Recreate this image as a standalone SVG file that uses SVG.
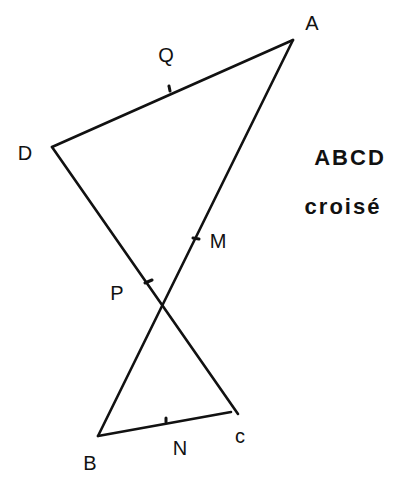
<svg xmlns="http://www.w3.org/2000/svg" width="406" height="483" viewBox="0 0 406 483">
<style>
.seg{stroke:#111;stroke-width:2.6;fill:none;stroke-linecap:round}
.tick{stroke:#111;stroke-width:3;stroke-linecap:round}
.lbl{font-family:"Liberation Sans",Arial,sans-serif;font-size:20px;fill:#111;text-anchor:middle}
.note{font-family:"Liberation Sans",Arial,sans-serif;font-size:22px;font-weight:bold;fill:#111;text-anchor:middle;letter-spacing:2px}
</style>
<rect width="406" height="483" fill="#fff"/>
<g id="connectors">
<line class="seg" x1="293" y1="40" x2="52" y2="147"/>
<line class="seg" x1="293" y1="40" x2="98" y2="436"/>
<line class="seg" x1="52" y1="147" x2="238" y2="414"/>
<line class="seg" x1="98" y1="436" x2="231" y2="412"/>
</g>
<g id="node-A"><text class="lbl" x="312" y="30">A</text></g>
<g id="node-D"><text class="lbl" x="25" y="160">D</text></g>
<g id="node-B"><text class="lbl" x="90" y="470">B</text></g>
<g id="node-C"><text class="lbl" x="240" y="443" font-size="17">c</text></g>
<g id="node-Q"><line class="tick" x1="169" y1="86" x2="170" y2="91"/><text class="lbl" x="166" y="62" font-size="17">Q</text></g>
<g id="node-M"><line class="tick" x1="193" y1="238" x2="199" y2="239"/><text class="lbl" x="218" y="248" font-size="18">M</text></g>
<g id="node-P"><line class="tick" x1="145" y1="283" x2="152" y2="280"/><text class="lbl" x="117" y="300" font-size="18">P</text></g>
<g id="node-N"><line class="tick" x1="166" y1="418" x2="166" y2="422"/><text class="lbl" x="180" y="455" font-size="18">N</text></g>
<g id="note"><text class="note" x="350" y="165">ABCD</text><text class="note" x="343" y="214">croisé</text></g>
</svg>
